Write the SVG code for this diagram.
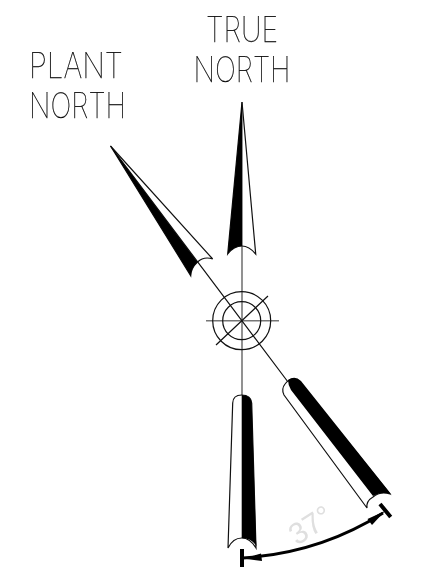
<svg xmlns="http://www.w3.org/2000/svg" width="426" height="581" viewBox="0 0 426 581">
<style>
.t{font-family:"Inter","Roboto","Liberation Sans",sans-serif;font-weight:100;font-size:35px;fill:#000;stroke:#000;stroke-width:.25}
.l{fill:none;stroke:#111;stroke-width:1.2}
.g{fill:none;stroke:#777;stroke-width:1.6}
.o{fill:#fff;stroke:#111;stroke-width:1.2}
.k{fill:#000;stroke:none}
</style>
<defs>
<filter id="gray" x="0" y="0" width="426" height="581" filterUnits="userSpaceOnUse"><feOffset dx="0" dy="0"/></filter>
</defs>
<rect width="426" height="581" fill="#fff"/>
<g id="connectors">
<path class="g" d="M242 102V395M206 320.7H279"/>
<path class="l" d="M110.500 146L288 382M216 345L268 296"/>
</g>
<g id="compass">
<circle class="l" cx="241.700" cy="320.700" r="29"/>
<circle class="l" cx="241.700" cy="320.700" r="19"/>
</g>
<g id="true-north-arrow">
<path class="l" d="M242 102L255.700 254Q249 246 242 246Q234 246 227.700 254Z"/>
<path class="k" d="M242 102L242 246Q234 246 227.700 254Z"/>
</g>
<g id="plant-north-arrow">
<path class="l" d="M110.500 146L212.700 259Q204 256 197.500 262Q191 268 190.700 275.700Z"/>
<path class="k" d="M110.500 146L197.500 262Q191 268 190.700 275.700Z"/>
</g>
<g id="true-south-bar">
<path class="o" d="M228 548L232.700 403Q233 395 241.700 395Q251 395 251.700 403L256 548Q250 538 241.700 538Q233 538 228 548Z"/>
<path class="k" d="M241.700 395Q251 395 251.700 403L256 540L256.500 546Q251 538 241.700 538Z"/>
</g>
<g id="plant-south-bar">
<path class="o" d="M367 508L284 395Q281 389 285 384Q291 376 299 381L390 494Q380 491 373 497Q366 501 367 508Z"/>
<path class="k" d="M288 380Q295 375 301 381L391 494Q381 491 373 496L291 390Q288 385 288 380Z"/>
</g>
<g id="dimension">
<path d="M242 549V567M380 504L390.700 517" fill="none" stroke="#000" stroke-width="4"/>
<path d="M243 558Q320 553 383 513" fill="none" stroke="#000" stroke-width="3"/>
<path class="k" d="M243 558.500L261 553.500L262 561Z"/>
<path class="k" d="M385 511L372 525L367.500 519Z"/>
<g filter="url(#gray)"><text transform="translate(297 546) rotate(-33)" font-family="Liberation Sans, sans-serif" font-size="30" fill="#dfdfdf">37°</text></g>
</g>
<g id="labels" filter="url(#gray)">
<text class="t" x="206" y="42" textLength="72" lengthAdjust="spacingAndGlyphs">TRUE</text>
<text class="t" x="193.500" y="82" textLength="97" lengthAdjust="spacingAndGlyphs">NORTH</text>
<text class="t" x="29" y="78" textLength="94" lengthAdjust="spacingAndGlyphs">PLANT</text>
<text class="t" x="29" y="118" textLength="97" lengthAdjust="spacingAndGlyphs">NORTH</text>
</g>
</svg>
